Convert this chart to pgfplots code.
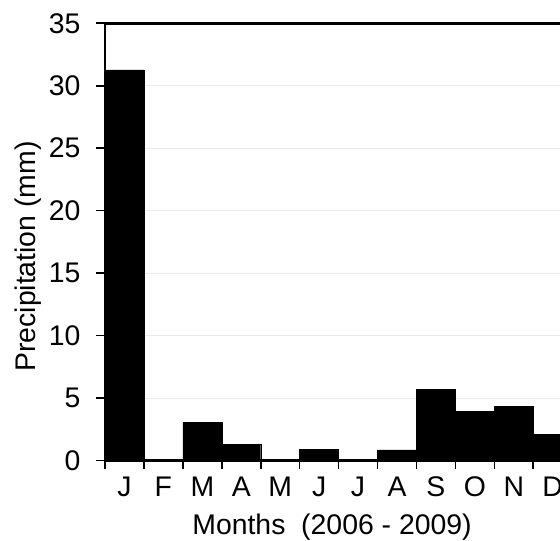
\documentclass[border=0pt]{standalone}
\usepackage{pgfplots}
\usepackage{pgfplotstable}
\pgfplotsset{compat=1.18}
\usepackage{fontspec}
\setmainfont{Liberation Sans}

% mean monthly precipitation, Jan..Dec
\pgfplotstableread{
m  p
0  31.27
1  0.02
2  3.03
3  1.32
4  0.12
5  0.92
6  0.05
7  0.86
8  5.70
9  3.91
10 4.31
11 2.10
}\precip

\newcommand\chartfont{\fontsize{28.5}{32}\selectfont}

\begin{document}
\begin{tikzpicture}
\useasboundingbox (0,0) rectangle (560bp,541bp);
\clip (0,0) rectangle (560bp,541bp);
\begin{axis}[
  at={(105bp,80.5bp)}, anchor=south west,
  scale only axis, width=467.2bp, height=437.2bp,
  xmin=-0.5, xmax=11.5, ymin=0, ymax=35,
  ytick={0,5,...,35},
  xtick={0,...,11},
  xticklabels={J,F,M,A,M,J,J,A,S,O,N,D},
  minor xtick={-0.5,0.5,...,11.5},
  major x tick style={draw=none},
  tick align=outside,
  xtick pos=left, ytick pos=left,
  major tick length=9bp, minor tick length=8bp,
  tick style={black, line width=1.6bp},
  axis line style={black, line width=2.6bp},
  ymajorgrids,
  grid style={color=black!8, line width=0.8bp},
  /pgf/number format/assume math mode=true,
  ticklabel style={font=\chartfont},
  yticklabel style={xshift=-12bp},
  xticklabel style={yshift=-4bp},
  label style={font=\chartfont},
  xlabel={Months~~(2006 - 2009)},
  ylabel={Precipitation (mm)},
  xlabel style={at={(axis description cs:0.486,-0.1704)}, anchor=base, inner sep=0pt},
  ylabel style={at={(axis description cs:-0.1498,0.4666)}, anchor=base, inner sep=0pt},
  ybar, bar width=1,
]
\addplot[fill=black, draw=black] table[x=m, y=p] {\precip};
\end{axis}
\end{tikzpicture}
\end{document}
